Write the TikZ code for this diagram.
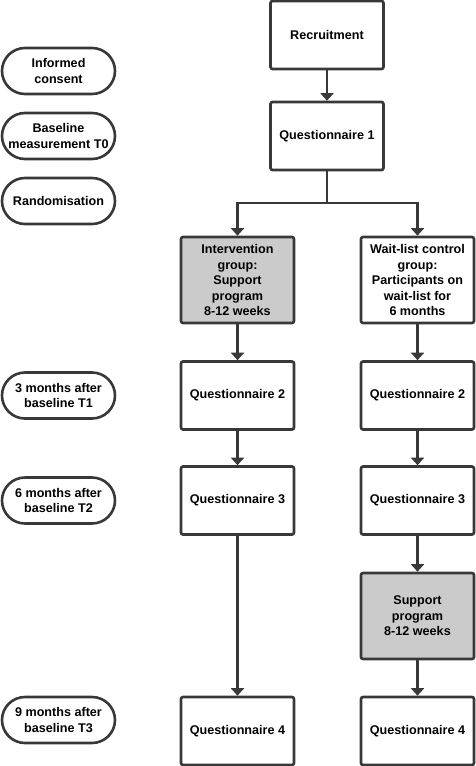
\documentclass[tikz,border=0pt]{standalone}
\usepackage{fontspec}
\setmainfont{Liberation Sans}
\usetikzlibrary{arrows.meta}
\definecolor{lc}{HTML}{383838}
\definecolor{fillg}{HTML}{CBCBCB}
\tikzset{
  base/.style={draw=lc, line width=2.6pt, align=center, inner sep=0pt,
    font=\fontsize{12.6}{15.5}\selectfont\bfseries, text=black},
  box/.style={base, rounded corners=2pt, minimum width=113pt, minimum height=68pt},
  tallbox/.style={box, minimum height=86pt},
  shaded/.style={fill=fillg},
  oval/.style={base, rounded corners=23pt, minimum width=113pt, minimum height=46pt},
  arr/.style={draw=lc, line width=2.4pt, -{Triangle[width=13pt,length=7.5pt]}},
  ln/.style={draw=lc, line width=2.4pt}
}
\begin{document}
\begin{tikzpicture}[x=1pt,y=-1pt]
\useasboundingbox (0,0) rectangle (475,766);
% left timeline ovals
\node[oval] (o1) at (58.5,71) {Informed\\consent};
\node[oval] (o2) at (58.5,136) {Baseline\\measurement T0};
\node[oval] (o3) at (58.5,201) {Randomisation};
\node[oval] (o4) at (58.5,395.5) {3 months after\\baseline T1};
\node[oval] (o5) at (58.5,500.5) {6 months after\\baseline T2};
\node[oval] (o6) at (58.5,720) {9 months after\\baseline T3};
% main boxes
\node[box] (rec) at (327,35) {Recruitment};
\node[box] (q1) at (327,136) {Questionnaire 1};
\node[tallbox,shaded] (int) at (237.5,280) {Intervention\\group:\\Support\\program\\8-12 weeks};
\node[tallbox] (wl) at (417.5,280) {Wait-list control\\group:\\Participants on\\wait-list for\\6 months};
\node[box] (q2a) at (237.5,395.5) {Questionnaire 2};
\node[box] (q2b) at (417.5,395.5) {Questionnaire 2};
\node[box] (q3a) at (237.5,500.5) {Questionnaire 3};
\node[box] (q3b) at (417.5,500.5) {Questionnaire 3};
\node[tallbox,shaded] (sp) at (417.5,616) {Support\\program\\8-12 weeks};
\node[box] (q4a) at (237.5,731) {Questionnaire 4};
\node[box] (q4b) at (417.5,731) {Questionnaire 4};
\coordinate (split) at (327,203);
% connectors
\draw[arr] (rec) -- (q1);
\draw[ln] (q1.south) -- (split);
\draw[arr] (split) -| (int.north);
\draw[arr] (split) -| (wl.north);
\draw[arr] (int) -- (q2a);
\draw[arr] (wl) -- (q2b);
\draw[arr] (q2a) -- (q3a);
\draw[arr] (q2b) -- (q3b);
\draw[arr] (q3a) -- (q4a);
\draw[arr] (q3b) -- (sp);
\draw[arr] (sp) -- (q4b);
\end{tikzpicture}
\end{document}
